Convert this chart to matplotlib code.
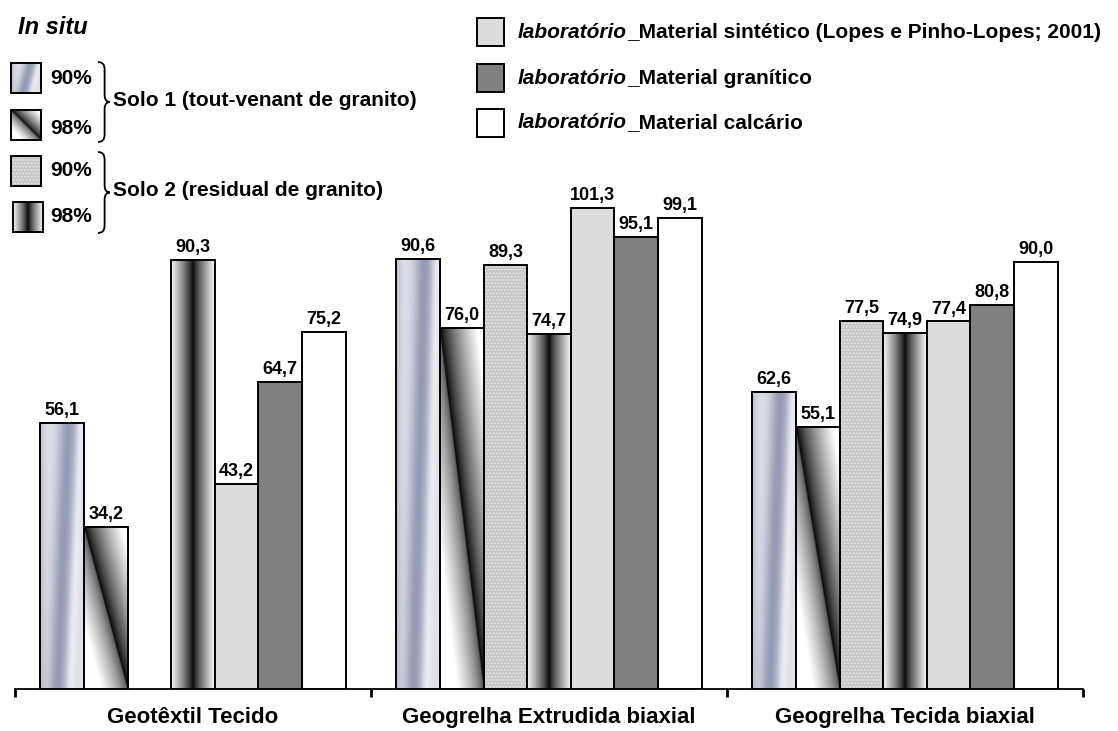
import numpy as np
import matplotlib
matplotlib.use("Agg")
import matplotlib.pyplot as plt
from matplotlib.patches import Rectangle, PathPatch
from matplotlib.path import Path

plt.rcParams['font.family'] = ['Liberation Sans', 'DejaVu Sans']
plt.rcParams['hatch.linewidth'] = 1.0

categories = ['Geotêxtil Tecido', 'Geogrelha Extrudida biaxial', 'Geogrelha Tecida biaxial']
solo1_90 = [56.1, 90.6, 62.6]
solo1_98 = [34.2, 76.0, 55.1]
solo2_90 = [None, 89.3, 77.5]
solo2_98 = [90.3, 74.7, 74.9]
lab_sintetico = [43.2, 101.3, 77.4]
lab_granitico = [64.7, 95.1, 80.8]
lab_calcario = [75.2, 99.1, 90.0]

lab_labels = ['_Material sintético (Lopes e Pinho-Lopes; 2001)',
              '_Material granítico',
              '_Material calcário']


# gradient fills, u across the bar, v from bottom to top (both 0..1)
def fill_solo1_90(u, v):
    c = 0.40 + 0.25 * v
    streak = np.exp(-((u - c) / 0.22) ** 2)
    hl = np.exp(-((u - c - 0.3) / 0.1) ** 2)
    edge = np.exp(-(u / 0.12) ** 2) * 0.35
    light = np.array([0.87, 0.88, 0.91])
    dark = np.array([0.53, 0.56, 0.67])
    s = np.clip(streak * 0.85 + edge, 0, 1)[..., None]
    rgb = light * (1 - s) + dark * s
    rgb = rgb + (1 - rgb) * (hl[..., None] * 0.5)
    return np.clip(rgb, 0, 1)


def fill_solo1_98(u, v):
    d = u - (1 - v)
    right = np.clip(d / 0.85, 0, 1) ** 0.75
    left = 0.3 + 0.7 * np.clip(-d / 0.6, 0, 1) ** 0.7
    g = np.where(d >= 0, right, left)
    return np.dstack([g, g, g])


def fill_solo2_98(u, v):
    g = np.clip(np.abs(u - 0.5) * 2, 0, 1) ** 0.8
    g = 0.02 + 0.95 * g
    return np.dstack([g, g, g])


def grad_image(func, n=160):
    u, v = np.meshgrid(np.linspace(0, 1, n), np.linspace(0, 1, n))
    return func(u, v)


series = [
    (solo1_90, dict(grad=fill_solo1_90)),
    (solo1_98, dict(grad=fill_solo1_98)),
    (solo2_90, dict(face='#c6c6c6', hatch='.....')),
    (solo2_98, dict(grad=fill_solo2_98)),
    (lab_sintetico, dict(face='#dcdcdc')),
    (lab_granitico, dict(face='#808080')),
    (lab_calcario, dict(face='white')),
]

W, H = 1118, 731
fig = plt.figure(figsize=(W / 100, H / 100), dpi=100)
ax = fig.add_axes([15 / W, 42 / H, 1068 / W, 570 / H])

width = 0.1225
x = np.arange(len(categories))
n = len(series)
for k, (vals, st) in enumerate(series):
    off = (k - (n - 1) / 2) * width
    for i, val in enumerate(vals):
        if val is None:
            continue
        xc = x[i] + off
        if 'grad' in st:
            b = ax.bar(xc, val, width, color='white', linewidth=0, zorder=1)[0]
            img = grad_image(st['grad'])
            im = ax.imshow(img, extent=(xc - width / 2, xc + width / 2, 0, val),
                           origin='lower', aspect='auto', interpolation='bilinear', zorder=2)
            im.set_clip_path(b)
        elif 'hatch' in st:
            ax.bar(xc, val, width, color=st['face'], edgecolor='#e4e4e4',
                   hatch=st['hatch'], linewidth=0, zorder=1)
        else:
            ax.bar(xc, val, width, color=st['face'], linewidth=0, zorder=1)
        ax.bar(xc, val, width, facecolor='none', edgecolor='black', linewidth=1.4, zorder=3)
        ax.text(xc, val + 0.8, f'{val:.1f}'.replace('.', ','), ha='center', va='bottom',
                fontsize=13, fontweight='bold', zorder=4)

ax.set_xlim(-0.5, 2.5)
ax.set_ylim(0, 120)
for s in ['top', 'right', 'left']:
    ax.spines[s].set_visible(False)
ax.spines['bottom'].set_linewidth(1.3)
ax.set_yticks([])
ax.set_xticks(np.arange(len(categories) + 1) - 0.5)
ax.set_xticklabels([])
ax.tick_params(axis='x', which='major', direction='out', length=6, width=2)
ax.set_xticks(x, minor=True)
ax.set_xticklabels(categories, minor=True, fontsize=16, fontweight='bold')
ax.tick_params(axis='x', which='minor', length=0, pad=13)

# legend overlay in pixel coordinates
lg = fig.add_axes([0, 0, 1, 1], zorder=5)
lg.set_xlim(0, W)
lg.set_ylim(H, 0)
lg.axis('off')

lg.text(18, 28, 'In situ', fontsize=17, fontweight='bold', fontstyle='italic',
        ha='left', va='center')

sw_rows = [(11, 63), (11, 110), (11, 156), (13, 202)]
sw_text_y = [78, 128, 170, 217]
sw_text = ['90%', '98%', '90%', '98%']
for k, ((sx, sy), ty, tt) in enumerate(zip(sw_rows, sw_text_y, sw_text)):
    st = series[k][1]
    r = Rectangle((sx, sy), 30, 30, facecolor='white', edgecolor='none', zorder=1)
    lg.add_patch(r)
    if 'grad' in st:
        im = lg.imshow(grad_image(st['grad']), extent=(sx, sx + 30, sy + 30, sy),
                       origin='lower', aspect='auto', interpolation='bilinear', zorder=2)
        im.set_clip_path(r)
    else:
        lg.add_patch(Rectangle((sx, sy), 30, 30, facecolor=st['face'], edgecolor='#e4e4e4',
                               hatch=st['hatch'], linewidth=0, zorder=2))
    lg.add_patch(Rectangle((sx, sy), 30, 30, facecolor='none', edgecolor='black',
                           linewidth=1.4, zorder=3))
    lg.text(50, ty, tt, fontsize=15, fontweight='bold', ha='left', va='center')


def brace(axl, x0, y0, y1, w=12):
    ym = (y0 + y1) / 2
    xm = x0 + w * 0.55
    r = w * 0.6
    verts = [(x0, y0), (xm, y0), (xm, y0 + r),
             (xm, ym - r), (xm, ym), (x0 + w, ym),
             (xm, ym), (xm, ym + r),
             (xm, y1 - r), (xm, y1), (x0, y1)]
    codes = [Path.MOVETO, Path.CURVE3, Path.CURVE3,
             Path.LINETO, Path.CURVE3, Path.CURVE3,
             Path.CURVE3, Path.CURVE3,
             Path.LINETO, Path.CURVE3, Path.CURVE3]
    axl.add_patch(PathPatch(Path(verts, codes), facecolor='none', edgecolor='black', lw=1.3))


brace(lg, 98, 62, 142)
brace(lg, 98, 152, 233)
lg.text(113, 101, 'Solo 1 (tout-venant de granito)', fontsize=15, fontweight='bold',
        ha='left', va='center')
lg.text(113, 191, 'Solo 2 (residual de granito)', fontsize=15, fontweight='bold',
        ha='left', va='center')

lab_y = [32, 78, 123]
for k, (ly, lab) in enumerate(zip(lab_y, lab_labels)):
    st = series[4 + k][1]
    lg.add_patch(Rectangle((477, ly - 14), 27, 28, facecolor=st['face'], edgecolor='black',
                           linewidth=1.4))
    t1 = lg.text(518, ly, 'laboratório', fontsize=15, fontweight='bold', fontstyle='italic',
                 ha='left', va='center')
    lg.annotate(lab, xy=(1, 0), xycoords=t1, ha='left', va='bottom',
                fontsize=15, fontweight='bold')

fig.savefig('out.png', dpi=100)
